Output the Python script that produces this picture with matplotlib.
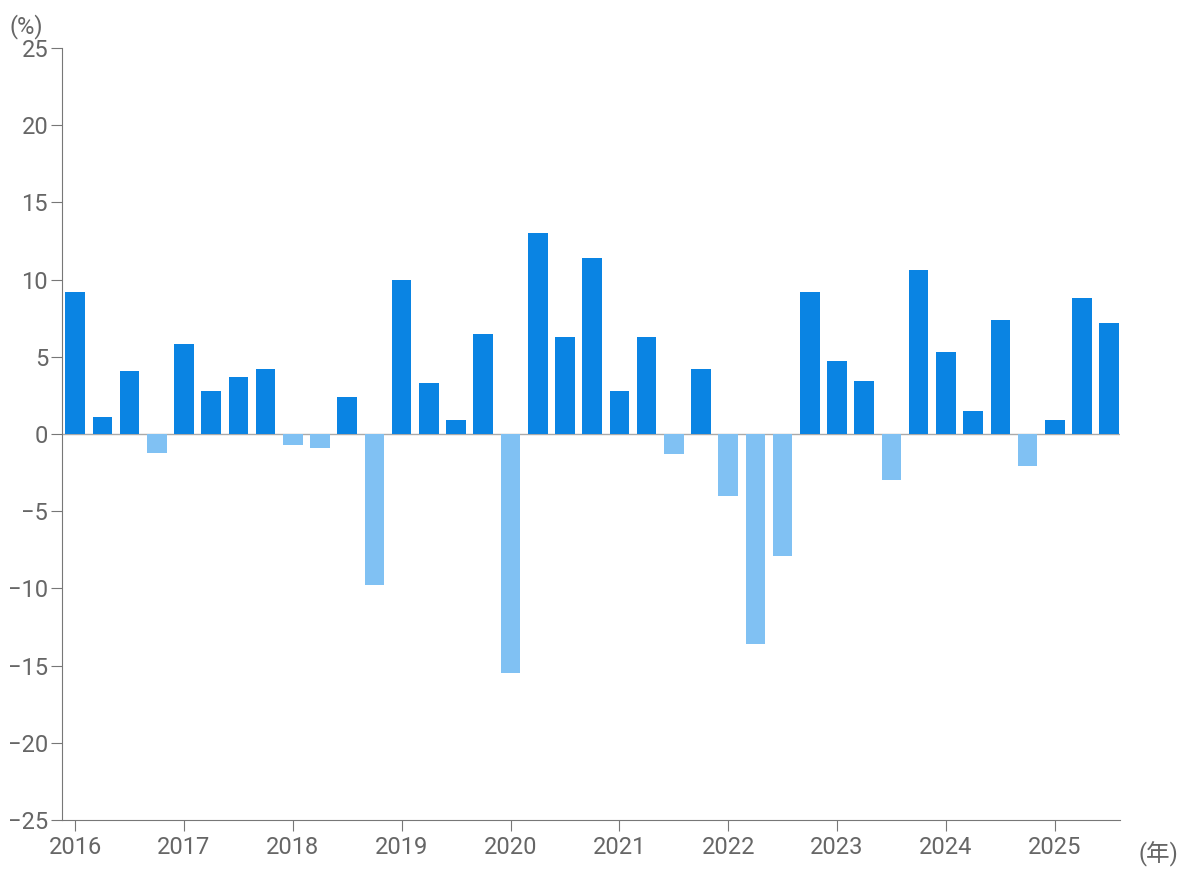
import matplotlib
matplotlib.use("Agg")
import matplotlib.pyplot as plt

years = [str(y) for y in range(2016, 2026)]
values = [9.2, 1.1, 4.1, -1.2, 5.8, 2.8, 3.7, 4.2, -0.7, -0.9, 2.4, -9.8,
          10.0, 3.3, 0.9, 6.5, -15.5, 13.0, 6.3, 11.4, 2.8, 6.3, -1.3, 4.2,
          -4.0, -13.6, -7.9, 9.2, 4.7, 3.4, -3.0, 10.6, 5.3, 1.5, 7.4, -2.1,
          0.9, 8.8, 7.2]

plt.rcParams['font.family'] = ['Roboto', 'Noto Sans CJK JP', 'DejaVu Sans']
fig = plt.figure(figsize=(11.84, 8.72), dpi=100)
ax = fig.add_axes([0.0524, 0.0596, 0.8936, 0.8854])
gray = '#777777'
colors = ['#0a84e3' if v >= 0 else '#80c1f3' for v in values]
ax.bar(range(len(values)), values, width=0.72, color=colors, zorder=2)
ax.axhline(0, color='#aaaaaa', lw=1, zorder=1)
ax.set_xlim(-0.48, 38.4)
ax.set_ylim(-25, 25)
ax.set_yticks(range(-25, 26, 5))
ax.set_xticks(range(0, 40, 4))
ax.set_xticklabels(years)
for s in ['top', 'right']:
    ax.spines[s].set_visible(False)
for s in ['left', 'bottom']:
    ax.spines[s].set_color(gray)
ax.tick_params(colors=gray, labelsize=17, length=8, labelcolor='#666666')
ax.tick_params(axis='y', pad=2)
fig.text(0.008, 0.97, '(%)', fontsize=17, color='#666666', va='center')
fig.text(0.995, 0.02, '(年)', fontsize=17, color='#666666', ha='right', va='center')
fig.savefig('out.png', dpi=100)
